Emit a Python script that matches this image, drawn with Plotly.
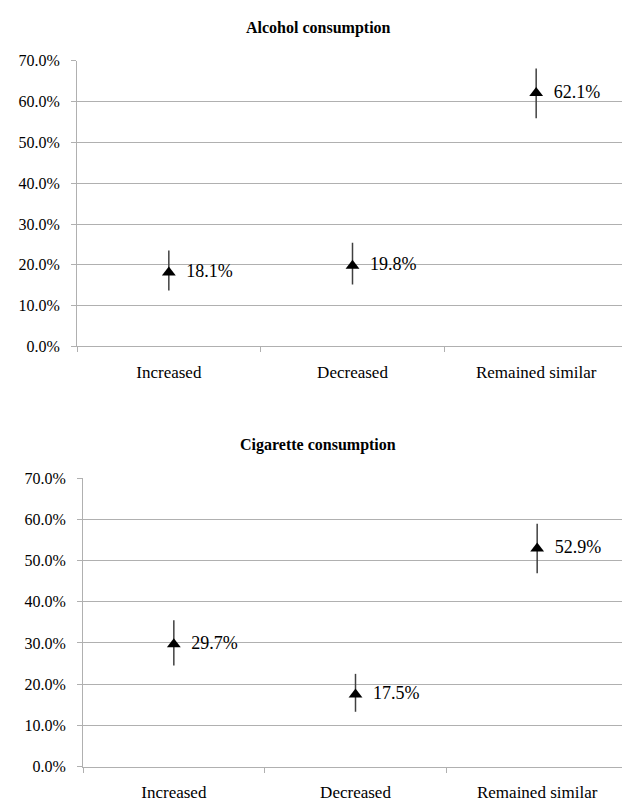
import plotly.graph_objects as go
from plotly.subplots import make_subplots

categories = ["Increased", "Decreased", "Remained similar"]

alcohol_values = [18.1, 19.8, 62.1]
alcohol_err_plus = [5.4, 5.6, 6.0]
alcohol_err_minus = [4.4, 4.6, 6.2]

cigarette_values = [29.7, 17.5, 52.9]
cigarette_err_plus = [5.8, 5.0, 6.0]
cigarette_err_minus = [5.2, 4.2, 6.0]

titles = ["Alcohol consumption", "Cigarette consumption"]
ytick_vals = [0, 10, 20, 30, 40, 50, 60, 70]

FONT = "Liberation Serif"
# page has an 8px body margin
OFF = 8
W, H = 630 - OFF, 810 - 2 * OFF

fig = make_subplots(rows=2, cols=1)

series = [
    (alcohol_values, alcohol_err_plus, alcohol_err_minus),
    (cigarette_values, cigarette_err_plus, cigarette_err_minus),
]

for i, (vals, ep, em) in enumerate(series, start=1):
    fig.add_trace(
        go.Scatter(
            x=categories,
            y=vals,
            mode="markers+text",
            marker=dict(symbol="triangle-up", size=12, color="black"),
            text=["  " + f"{v:.1f}%" for v in vals],
            textposition="middle right",
            textfont=dict(family=FONT, size=18, color="black"),
            error_y=dict(type="data", symmetric=False, array=ep, arrayminus=em,
                         color="#404040", thickness=1.5, width=0),
            showlegend=False,
            cliponaxis=False,
        ),
        row=i, col=1,
    )


def xdom(left_px, right_px):
    return [max(0, (left_px - OFF) / W), min(1, (right_px - OFF) / W)]


def ydom(top_px, bottom_px):
    return [max(0, 1 - (bottom_px - OFF) / H), min(1, 1 - (top_px - OFF) / H)]


xdoms = [xdom(77, 628), xdom(83, 628)]
ydoms = [ydom(54, 347), ydom(482, 778)]

for i in (1, 2):
    xa = "xaxis" if i == 1 else "xaxis2"
    ya = "yaxis" if i == 1 else "yaxis2"
    fig.layout[xa].update(
        domain=xdoms[i - 1], type="category", range=[-0.5, 2.5], tickson="boundaries",
        ticks="outside", ticklen=5, tickcolor="#b0b0b0", showgrid=False,
        showline=True, linecolor="#b0b0b0", linewidth=1, zeroline=False,
        ticklabelstandoff=10,
        tickfont=dict(family=FONT, size=17, color="black"), fixedrange=True,
    )
    fig.layout[ya].update(
        domain=ydoms[i - 1], range=[0, 70], tickvals=ytick_vals,
        ticktext=[f"{v:.1f}%" for v in ytick_vals],
        ticks="outside", ticklen=5, tickcolor="#b0b0b0",
        showgrid=True, gridcolor="#b0b0b0", gridwidth=1,
        showline=True, linecolor="#b0b0b0", linewidth=1, zeroline=False,
        ticklabelstandoff=8,
        tickfont=dict(family=FONT, size=16, color="black"), fixedrange=True,
    )

for t, ypx in zip(titles, [20, 448]):
    fig.add_annotation(
        text=f"<b>{t}</b>", xref="paper", yref="paper",
        x=(318 - OFF) / W, y=1 - (ypx - OFF) / H, xanchor="center", yanchor="middle",
        showarrow=False, font=dict(family=FONT, size=16, color="black"),
    )

fig.update_layout(
    width=W, height=H, margin=dict(l=0, r=0, t=0, b=0),
    paper_bgcolor="white", plot_bgcolor="white",
    font=dict(family=FONT, size=16, color="black"),
)

fig.write_html("out.html")
